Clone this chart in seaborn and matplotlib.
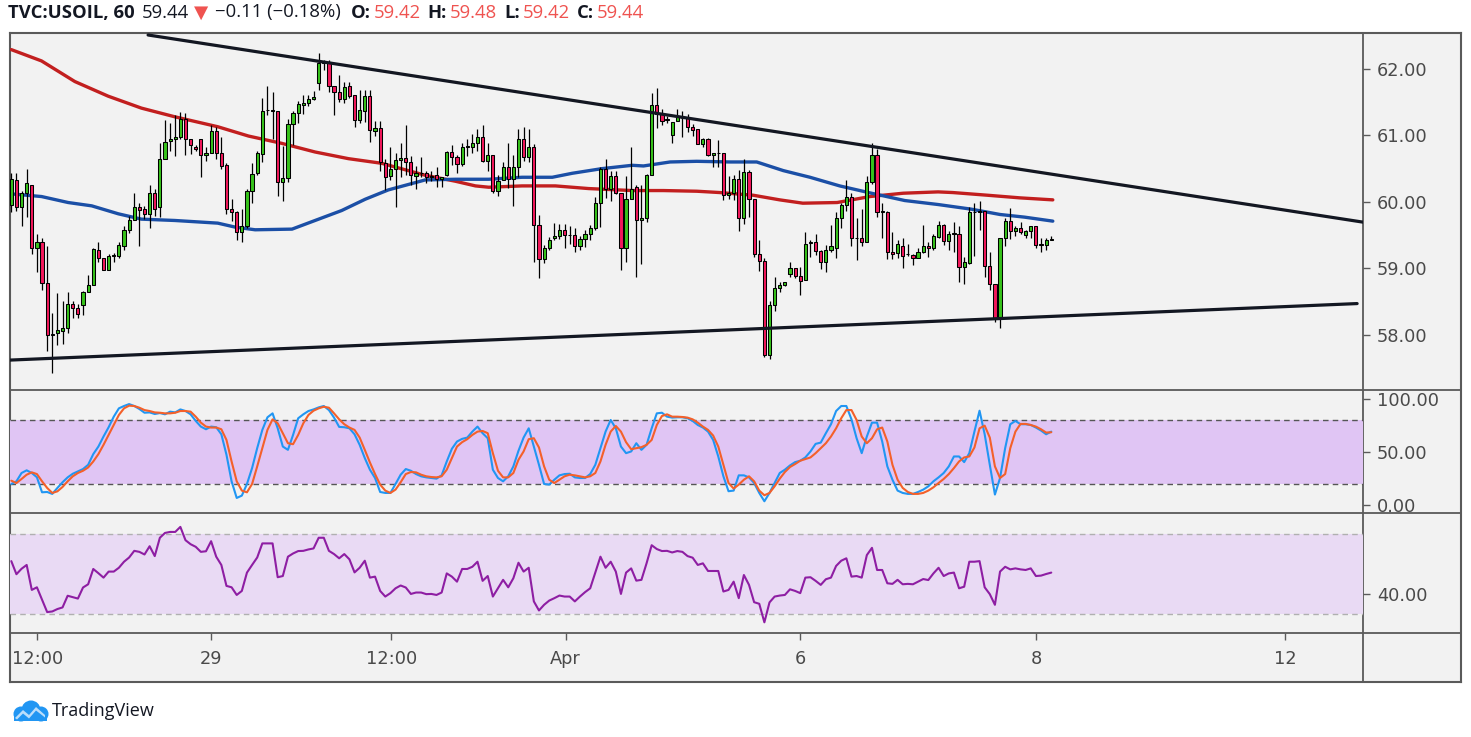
import numpy as np
import pandas as pd
import matplotlib
matplotlib.use("Agg")
import matplotlib.pyplot as plt
import seaborn as sns
from matplotlib.patches import Circle, Polygon

# ---------------- data ----------------
opens = [59.96, 60.33, 59.93, 60.14, 60.26, 59.30, 59.40, 58.78, 58.00, 58.02,
         58.06, 58.11, 58.47, 58.41, 58.45, 58.64, 58.75, 59.28, 59.16, 58.98,
         59.19, 59.19, 59.34, 59.57, 59.73, 59.93, 59.89, 59.82, 60.14, 59.92,
         60.65, 60.91, 60.95, 60.97, 61.25, 60.95, 60.83, 60.94, 60.70, 60.73,
         61.07, 60.74, 60.55, 59.89, 59.85, 59.55, 59.64, 60.17, 60.44, 60.72,
         61.38, 61.38, 61.37, 60.30, 60.36, 61.17, 61.33, 61.46, 61.48, 61.55,
         61.79, 62.09, 62.10, 61.75, 61.65, 61.55, 61.74, 61.60, 61.23, 61.37,
         61.59, 61.06, 61.11, 60.59, 60.39, 60.49, 60.63, 60.66, 60.60, 60.39,
         60.44, 60.43, 60.39, 60.40, 60.35, 60.40, 60.75, 60.68, 60.57, 60.83,
         60.82, 60.88, 60.98, 60.62, 60.71, 60.17, 60.33, 60.53, 60.34, 60.52,
         60.94, 60.68, 60.82, 59.65, 59.14, 59.31, 59.45, 59.48, 59.58, 59.50,
         59.50, 59.33, 59.44, 59.51, 59.60, 59.98, 60.49, 60.20, 60.39, 60.13,
         59.30, 60.05, 60.22, 59.72, 59.75, 60.41, 61.46, 61.32, 61.25, 61.00,
         61.21, 61.26, 61.26, 61.13, 61.09, 60.87, 60.94, 60.70, 60.73, 60.73,
         60.10, 60.14, 60.35, 59.75, 60.45, 60.05, 59.21, 59.11, 57.70, 58.45,
         58.71, 58.75, 58.92, 59.00, 58.89, 58.82, 59.38, 59.39, 59.26, 59.10,
         59.27, 59.31, 59.75, 59.95, 60.07, 59.45, 59.46, 59.40, 60.30, 60.70,
         59.85, 59.84, 59.25, 59.23, 59.33, 59.21, 59.20, 59.16, 59.24, 59.33,
         59.30, 59.47, 59.65, 59.41, 59.52, 59.52, 59.02, 59.08, 59.84, 59.85,
         59.86, 59.03, 58.77, 58.25, 59.45, 59.71, 59.56, 59.61, 59.50, 59.56,
         59.63, 59.36, 59.35, 59.42]
highs = [60.44, 60.43, 60.16, 60.49, 60.26, 59.52, 59.46, 59.33, 58.33, 58.63,
         58.51, 58.65, 58.51, 58.46, 58.66, 58.90, 59.30, 59.40, 59.16, 59.21,
         59.23, 59.39, 59.64, 59.79, 60.14, 59.99, 59.94, 60.25, 60.19, 60.88,
         61.23, 61.19, 61.30, 61.35, 61.33, 60.95, 60.85, 60.94, 60.83, 61.16,
         61.12, 60.98, 60.58, 60.04, 59.87, 59.90, 60.20, 60.58, 60.76, 61.56,
         61.75, 61.66, 61.37, 60.84, 61.24, 61.37, 61.52, 61.60, 61.60, 61.67,
         62.24, 62.13, 62.13, 61.75, 61.91, 61.80, 61.80, 61.61, 61.68, 61.69,
         61.68, 61.22, 61.21, 60.64, 60.83, 60.74, 60.88, 61.16, 60.69, 60.54,
         60.68, 60.47, 60.47, 60.53, 60.38, 60.77, 60.85, 60.70, 60.89, 60.94,
         61.02, 61.09, 61.15, 60.88, 60.71, 60.40, 60.60, 60.88, 60.71, 61.10,
         61.13, 61.10, 60.87, 59.80, 59.35, 59.47, 59.68, 59.66, 59.66, 59.63,
         59.60, 59.49, 59.58, 59.65, 60.08, 60.52, 60.64, 60.47, 60.47, 60.13,
         60.39, 60.82, 60.25, 60.25, 60.42, 61.63, 61.72, 61.40, 61.29, 61.20,
         61.39, 61.37, 61.32, 61.17, 61.10, 60.96, 60.96, 60.74, 60.93, 60.73,
         60.39, 60.40, 60.48, 60.65, 60.48, 60.05, 59.42, 59.15, 58.51, 58.87,
         58.80, 58.80, 59.10, 59.00, 59.02, 59.55, 59.42, 59.51, 59.27, 59.35,
         59.65, 59.85, 59.99, 60.33, 60.13, 59.76, 59.89, 60.39, 60.88, 60.79,
         59.98, 59.86, 59.55, 59.42, 59.45, 59.36, 59.21, 59.31, 59.65, 59.39,
         59.52, 59.71, 59.66, 59.56, 59.70, 59.64, 59.17, 59.92, 59.99, 60.02,
         59.86, 59.25, 58.77, 59.45, 59.75, 59.91, 59.63, 59.69, 59.58, 59.63,
         59.63, 59.45, 59.46, 59.48]
lows = [59.85, 59.87, 59.63, 59.77, 59.22, 58.94, 58.67, 57.75, 57.42, 57.85,
        57.86, 58.03, 58.25, 58.26, 58.30, 58.64, 58.75, 59.09, 58.97, 58.98,
        59.10, 59.15, 59.27, 59.53, 59.72, 59.33, 59.74, 59.60, 59.79, 59.77,
        60.65, 60.77, 60.69, 60.95, 60.70, 60.72, 60.77, 60.38, 60.61, 60.73,
        60.65, 60.49, 59.82, 59.71, 59.42, 59.40, 59.61, 59.99, 60.40, 60.60,
        61.30, 60.95, 60.09, 60.01, 60.30, 60.85, 61.19, 61.32, 61.44, 61.53,
        61.69, 61.98, 61.66, 61.31, 61.50, 61.49, 61.56, 61.12, 61.19, 61.20,
        60.90, 60.99, 60.46, 60.18, 60.33, 59.93, 60.37, 60.40, 60.26, 60.20,
        60.38, 60.29, 60.31, 60.22, 60.22, 60.39, 60.56, 60.44, 60.54, 60.69,
        60.74, 60.76, 60.60, 60.46, 60.14, 60.09, 60.33, 60.21, 59.94, 60.37,
        60.61, 60.60, 59.09, 58.85, 59.08, 59.27, 59.42, 59.44, 59.31, 59.36,
        59.25, 59.28, 59.32, 59.43, 59.58, 59.62, 60.06, 60.02, 60.12, 58.97,
        59.09, 60.05, 58.87, 59.07, 59.70, 60.41, 61.11, 61.16, 61.19, 60.89,
        61.21, 60.97, 61.05, 60.99, 60.87, 60.82, 60.69, 60.52, 60.52, 60.03,
        60.05, 60.03, 59.56, 59.67, 59.77, 59.17, 58.96, 57.67, 57.63, 58.36,
        58.64, 58.74, 58.87, 58.85, 58.60, 58.82, 59.17, 59.20, 58.99, 58.95,
        59.24, 59.15, 59.60, 59.87, 59.33, 59.12, 59.33, 59.39, 60.27, 59.77,
        59.45, 59.14, 59.14, 59.16, 59.00, 59.19, 59.05, 59.16, 59.23, 59.17,
        59.28, 59.46, 59.35, 59.27, 59.24, 58.80, 58.77, 59.07, 59.19, 59.58,
        58.87, 58.68, 58.20, 58.11, 59.34, 59.44, 59.49, 59.52, 59.45, 59.45,
        59.31, 59.25, 59.28, 59.42]
closes = [60.34, 59.93, 60.14, 60.28, 59.30, 59.40, 58.78, 58.00, 58.00, 58.07,
          58.11, 58.47, 58.41, 58.32, 58.65, 58.75, 59.29, 59.15, 58.98, 59.19,
          59.19, 59.35, 59.58, 59.73, 59.93, 59.88, 59.82, 60.13, 59.90, 60.65,
          60.90, 60.95, 60.98, 61.25, 60.95, 60.85, 60.80, 60.70, 60.73, 61.07,
          60.74, 60.54, 59.90, 59.85, 59.55, 59.64, 60.17, 60.42, 60.73, 61.37,
          61.38, 61.37, 60.30, 60.36, 61.17, 61.33, 61.47, 61.48, 61.55, 61.58,
          62.09, 62.10, 61.75, 61.65, 61.54, 61.73, 61.59, 61.23, 61.38, 61.59,
          61.08, 61.11, 60.60, 60.38, 60.49, 60.63, 60.66, 60.60, 60.40, 60.44,
          60.43, 60.37, 60.38, 60.35, 60.38, 60.75, 60.68, 60.57, 60.82, 60.83,
          60.88, 60.98, 60.62, 60.70, 60.17, 60.32, 60.53, 60.34, 60.52, 60.94,
          60.68, 60.82, 59.65, 59.14, 59.30, 59.42, 59.48, 59.58, 59.50, 59.50,
          59.33, 59.44, 59.51, 59.60, 59.99, 60.50, 60.20, 60.39, 60.13, 59.30,
          60.05, 60.20, 59.72, 59.75, 60.41, 61.46, 61.32, 61.22, 61.23, 61.20,
          61.27, 61.26, 61.12, 61.08, 60.87, 60.94, 60.70, 60.73, 60.73, 60.10,
          60.13, 60.35, 59.75, 60.45, 60.05, 59.22, 59.11, 57.70, 58.45, 58.71,
          58.75, 58.79, 59.00, 58.89, 58.81, 59.37, 59.39, 59.26, 59.10, 59.27,
          59.33, 59.75, 59.95, 60.07, 59.45, 59.45, 59.39, 60.30, 60.71, 59.85,
          59.85, 59.25, 59.21, 59.37, 59.18, 59.21, 59.16, 59.24, 59.33, 59.30,
          59.48, 59.65, 59.41, 59.51, 59.52, 59.02, 59.09, 59.84, 59.84, 59.86,
          59.03, 58.77, 58.25, 59.45, 59.71, 59.56, 59.60, 59.55, 59.56, 59.63,
          59.35, 59.35, 59.42, 59.44]

# moving averages (sampled along the lines, x in bar index)
ma_red_idx = [0, 5.9, 12.4, 18.9, 25.4, 31.9, 40.3, 46.3, 52.8, 59.3, 65.8, 72.3,
              80.8, 86.7, 90.6, 93.2, 99.7, 106.2, 112.7, 121.2, 127.3, 133.8,
              138.3, 144.8, 150.0, 154.5, 161.2, 167.6, 174.1, 180.9, 183.8,
              190.5, 196.9, 203.3]
ma_red_val = [62.29, 62.12, 61.81, 61.59, 61.41, 61.28, 61.13, 60.99, 60.88, 60.75,
              60.65, 60.58, 60.40, 60.31, 60.24, 60.22, 60.24, 60.24, 60.20, 60.17,
              60.17, 60.16, 60.14, 60.10, 60.03, 59.98, 59.99, 60.08, 60.13, 60.15,
              60.14, 60.10, 60.06, 60.03]
ma_blue_idx = [0, 5.9, 11.1, 15.7, 20.9, 25.4, 31.9, 40.3, 43.7, 47.6, 54.8, 59.3,
               64.5, 69.1, 73.6, 80.8, 86.7, 93.2, 99.7, 105.6, 109.5, 115.3, 121.2,
               123.4, 128.6, 133.8, 140.3, 145.5, 150.7, 155.9, 161.7, 167.9, 174.4,
               180.9, 187.4, 193.0, 197.8, 203.3]
ma_blue_val = [60.12, 60.08, 59.99, 59.94, 59.82, 59.74, 59.72, 59.68, 59.62, 59.58,
               59.59, 59.72, 59.87, 60.04, 60.18, 60.33, 60.34, 60.34, 60.37, 60.37,
               60.43, 60.50, 60.55, 60.54, 60.60, 60.61, 60.60, 60.60, 60.47, 60.37,
               60.24, 60.13, 60.02, 59.96, 59.89, 59.81, 59.77, 59.71]

# trend lines (bar index, price)
upper_line_idx = [26.7, 263.85]
upper_line_price = [62.51, 59.695]
lower_line_idx = [-0.25, 262.7]
lower_line_price = [57.62, 58.47]

# stochastic %K and %D (one value per bar)
stoch_k = [20.0, 22.5, 30.3, 32.8, 30.3, 26.3, 12.2, 12.5, 10.7, 16.3,
           21.6, 26.2, 29.6, 31.8, 34.0, 38.0, 48.0, 55.1, 64.5, 73.2,
           83.1, 90.9, 93.1, 94.9, 93.1, 90.3, 86.8, 87.1, 85.6, 86.5,
           85.3, 87.8, 87.1, 89.9, 88.4, 85.3, 79.1, 73.8, 71.3, 73.8,
           73.2, 66.6, 47.4, 22.5, 6.9, 9.1, 20.0, 34.9, 53.6, 70.7,
           82.5, 86.2, 72.2, 55.1, 52.0, 66.0, 81.6, 85.3, 88.4, 89.9,
           91.8, 93.1, 89.3, 82.2, 73.5, 73.2, 72.2, 66.6, 56.7, 44.3,
           33.4, 25.6, 12.5, 11.6, 11.6, 20.0, 28.7, 34.0, 32.4, 29.3,
           27.2, 26.2, 25.6, 25.0, 28.1, 41.1, 53.0, 59.8, 62.3, 63.5,
           69.1, 73.8, 67.6, 62.9, 33.4, 25.6, 22.5, 27.2, 36.5, 51.1,
           63.5, 72.2,
           55.1, 38.0, 20.0, 19.4, 24.0, 28.1, 29.3, 29.6, 26.2, 25.6,
           25.6, 29.3, 38.0, 53.6, 69.1, 80.0, 72.2, 55.1, 48.9, 50.5,
           58.2, 52.0, 56.7, 72.2, 86.2, 86.8, 83.1, 82.2, 82.5, 82.5,
           81.6, 79.1, 75.3, 72.9, 69.1, 61.3, 45.8, 27.2, 13.2, 13.8,
           28.1, 28.1, 26.2, 20.9, 11.6, 3.8, 11.6, 20.9, 30.3, 33.4,
           37.4, 40.5, 41.8, 44.9, 50.5, 57.6, 58.8, 67.6, 76.0, 88.4,
           93.1, 93.1, 80.6, 62.9, 48.9, 64.5, 77.5, 77.5, 59.8, 36.5,
           24.0, 13.8, 11.6, 10.7, 10.7, 12.5, 14.7, 17.8, 22.5, 26.2,
           30.3, 36.5, 45.8, 45.8, 40.5, 48.9, 69.1, 88.7, 66.6, 38.0,
           10.1, 25.6, 53.6, 76.0, 79.1, 76.0, 76.0, 75.3, 72.9, 70.1,
           66.6, 69.1]
stoch_d = [23.1, 20.9, 24.7, 28.7, 30.9, 29.3, 22.5, 16.3, 11.6, 13.1,
           17.2, 22.5, 27.2, 30.3, 32.4, 35.5, 41.1, 48.0, 56.7, 66.0,
           75.3, 84.7, 90.9, 93.4, 93.1, 91.5, 89.3, 88.4, 87.1, 86.8,
           86.2, 86.2, 86.8, 88.4, 88.4, 87.8, 83.1, 77.5, 73.8, 72.9,
           72.9, 71.3, 61.3, 41.1, 22.5, 13.8, 12.2, 20.0, 36.5, 53.6,
           70.7, 80.6, 76.9, 67.6, 58.2, 57.3, 66.0, 76.9, 84.7, 88.7,
           90.9, 92.4, 91.5, 86.2, 80.6, 76.0, 72.9, 70.7, 63.5, 52.0,
           40.2, 29.3, 19.4, 13.8, 11.6, 14.7, 21.6, 29.3, 31.2, 30.9,
           28.7, 27.2, 26.5, 26.2, 27.2, 33.4, 44.3, 55.1, 59.2, 62.0,
           66.0, 69.1, 69.7, 67.6, 48.9, 32.4, 26.2, 26.2, 30.3, 42.7,
           50.5, 62.0, 62.9, 54.2, 36.5, 24.0, 20.9, 24.0, 27.2, 28.7,
           28.1, 27.2, 26.2, 27.2, 30.3, 41.1, 56.7, 69.1, 74.4, 69.1,
           59.2, 52.6, 53.6, 54.5, 56.7, 61.3, 75.3, 83.7, 85.3, 83.1,
           83.1, 82.8, 82.2, 80.6, 77.5, 73.8, 70.7, 65.4, 55.1, 38.0,
           20.9, 15.7, 19.4, 24.0, 27.2, 22.5, 13.8, 9.4, 11.6, 17.8,
           25.0, 31.2, 35.9, 38.7, 41.8, 43.3, 44.9, 48.9, 53.6, 58.2,
           64.5, 72.2, 81.6, 89.3, 89.3, 80.0, 64.5, 58.2, 62.9, 71.3,
           72.9, 59.8, 38.0, 24.0, 16.3, 12.5, 10.7, 10.7, 11.6, 13.8,
           16.9, 20.9, 24.7, 29.3, 34.9, 41.1, 44.9, 45.8, 54.2, 72.2,
           74.7, 63.5, 36.5, 25.6, 29.3, 53.6, 69.1, 76.3, 76.3, 75.3,
           73.8, 71.3, 68.2, 68.5]
rsi = [56.3, 49.8, 52.5, 54.4, 42.0, 43.3, 37.1, 31.0, 31.3, 32.5,
       33.3, 39.1, 38.4, 37.7, 43.2, 44.8, 52.4, 50.3, 48.1, 51.1,
       51.1, 53.0, 56.0, 58.1, 61.4, 60.9, 59.6, 63.7, 58.8, 67.9,
       70.3, 70.8, 70.8, 73.3, 66.7, 64.7, 63.4, 60.9, 61.2, 66.2,
       58.5, 54.4, 44.0, 43.3, 39.5, 41.5, 50.6, 54.4, 58.1, 65.1,
       65.1, 65.1, 48.3, 48.9, 58.5, 60.1, 61.3, 61.4, 62.1, 62.6,
       67.9, 67.9, 61.4, 59.8, 57.7, 59.8, 57.2, 50.7, 53.0, 56.5,
       48.1, 48.6, 41.5, 38.7, 40.4, 42.8, 44.2, 43.2, 40.0, 40.7,
       40.7, 39.9, 40.0, 39.5, 40.7, 50.2, 48.6, 46.1, 52.4, 52.4,
       53.5, 56.0, 46.5, 48.9, 38.7, 42.8, 47.0, 43.3, 47.8, 55.5,
       51.1, 53.0, 36.3, 31.8, 34.6, 36.7, 37.9, 39.2, 38.7, 38.7,
       36.3, 38.7, 40.9, 42.8, 50.6, 58.5, 53.0, 56.0, 51.1, 40.0,
       50.6, 52.7, 46.6, 47.0, 55.2, 64.2, 62.3, 61.3, 61.4, 60.6,
       61.3, 60.9, 58.8, 58.0, 54.4, 55.2, 51.4, 51.4, 51.4, 41.2,
       42.0, 46.1, 37.9, 49.4, 44.5, 35.9, 35.1, 25.9, 35.8, 38.7,
       39.2, 39.5, 42.3, 41.5, 40.4, 48.1, 48.3, 46.5, 44.5, 47.3,
       48.1, 53.9, 56.5, 57.7, 48.6, 48.9, 48.1, 59.3, 62.9, 51.9,
       51.9, 45.3, 45.0, 47.0, 44.8, 45.0, 44.8, 46.1, 47.4, 46.9,
       50.2, 53.0, 48.9, 50.2, 50.6, 42.8, 43.6, 56.0, 56.0, 56.3,
       43.3, 39.9, 34.6, 51.1, 53.5, 52.2, 52.7, 52.2, 51.9, 52.7,
       48.9, 49.1, 49.9, 50.6]

price_ticks = [58, 59, 60, 61, 62]
stoch_ticks = [0, 50, 100]
rsi_ticks = [40]
time_tick_idx = [5.06, 39.0, 74.2, 108.2, 154.0, 200.1, 248.6]
time_tick_labels = ["12:00", "29", "12:00", "Apr", "6", "8", "12"]
header_parts = [("TVC:USOIL, 60", "bold", "dark"), ("59.44", "normal", "dark"),
                ("\u25BC", "normal", "red"), ("\u22120.11 (\u22120.18%)", "normal", "dark"),
                ("O:", "bold", "dark"), ("59.42", "normal", "red"),
                ("H:", "bold", "dark"), ("59.48", "normal", "red"),
                ("L:", "bold", "dark"), ("59.42", "normal", "red"),
                ("C:", "bold", "dark"), ("59.44", "normal", "red")]

# ---------------- style ----------------
sns.set_theme(style="white")
plt.rcParams['font.family'] = ['DejaVu Sans']

GREEN = '#37c21b'
RED = '#f2185b'
FRAME = '#5a5a5a'
TXT = '#4a4a4a'
DARK = '#131722'
RED_TXT = '#ef5350'

W, H = 1471, 737
fig = plt.figure(figsize=(W / 100, H / 100), dpi=100)
fig.patch.set_facecolor('white')


def fx(px):
    return px / W


def fy(py):
    return 1 - py / H


FL, FR, FT, FB = 10, 1461, 33, 682
AXR = 1363
S1, S2, S3 = 390, 513, 633

bg = fig.add_axes([fx(FL), fy(FB), fx(FR) - fx(FL), fy(FT) - fy(FB)], zorder=-5)
bg.set_facecolor('#f2f2f2')
bg.set_xlim(FL, FR)
bg.set_ylim(FB, FT)
bg.set_xticks([])
bg.set_yticks([])
for s in bg.spines.values():
    s.set_visible(True)
    s.set_color(FRAME)
    s.set_linewidth(1.5)
for yy in (S1, S2, S3):
    bg.axhline(yy, color=FRAME, lw=1.3)
bg.axvline(AXR, color=FRAME, lw=1.3)

X_LEFT = (FL - 11.3) / 5.123
X_RIGHT = (AXR - 11.3) / 5.123


def panel(top, bottom):
    ax = fig.add_axes([fx(FL), fy(bottom), fx(AXR) - fx(FL), fy(top) - fy(bottom)])
    ax.set_facecolor('none')
    for s in ax.spines.values():
        s.set_visible(False)
    ax.set_xlim(X_LEFT, X_RIGHT)
    ax.yaxis.tick_right()
    ax.tick_params(axis='y', which='both', right=True, left=False, length=5, width=1,
                   color=FRAME, labelcolor=TXT, labelsize=12.8, pad=5, direction='out')
    ax.tick_params(axis='x', bottom=False, labelbottom=False, top=False)
    ax.grid(False)
    return ax


# ---------------- price panel ----------------
ax = panel(FT, S1)
ax.set_ylim(57.17, 62.54)
idx = np.arange(len(closes))
o = np.array(opens)
c = np.array(closes)
up = c >= o
body_bottom = np.minimum(o, c)
body_h = np.maximum(np.abs(c - o), 0.005)

sns.lineplot(x=ma_red_idx, y=ma_red_val, ax=ax, color='#c21f1f', linewidth=2.4, sort=False, zorder=2)
sns.lineplot(x=ma_blue_idx, y=ma_blue_val, ax=ax, color='#1b4fa6', linewidth=2.4, sort=False, zorder=2)

ax.vlines(idx, lows, highs, color='black', lw=0.9, zorder=3)
ax.bar(idx, body_h, bottom=body_bottom, width=0.62,
       color=np.where(up, GREEN, RED), edgecolor='black', linewidth=0.75, zorder=4)

sns.lineplot(x=upper_line_idx, y=upper_line_price, ax=ax, color='#131722', linewidth=2.3, zorder=5)
sns.lineplot(x=lower_line_idx, y=lower_line_price, ax=ax, color='#131722', linewidth=2.3, zorder=5)
ax.set_yticks(price_ticks)
ax.set_yticklabels([f"{v:.2f}" for v in price_ticks])
ax.set_xlabel("")
ax.set_ylabel("")

# ---------------- stochastic panel ----------------
ax2 = panel(S1, S2)
ax2.set_ylim(-7.2, 108.1)
ax2.axhspan(20, 80, color='#e0c5f4', lw=0, zorder=0)
ax2.axhline(80, color='#555555', lw=1.0, ls=(0, (4, 3)), zorder=1)
ax2.axhline(20, color='#555555', lw=1.0, ls=(0, (4, 3)), zorder=1)
sns.lineplot(x=idx, y=stoch_k, ax=ax2, color='#2196f3', linewidth=1.5, zorder=3)
sns.lineplot(x=idx, y=stoch_d, ax=ax2, color='#f4602a', linewidth=1.5, zorder=4)
ax2.set_yticks(stoch_ticks)
ax2.set_yticklabels([f"{v:.2f}" for v in stoch_ticks])
ax2.set_xlabel("")
ax2.set_ylabel("")

# ---------------- RSI panel ----------------
ax3 = panel(S2, S3)
ax3.set_ylim(20.6, 80.2)
ax3.axhspan(30, 70, color='#e9daf4', lw=0, zorder=0)
ax3.axhline(70, color='#b0b0b0', lw=1.0, ls=(0, (4, 3)), zorder=1)
ax3.axhline(30, color='#b0b0b0', lw=1.0, ls=(0, (4, 3)), zorder=1)
sns.lineplot(x=idx, y=rsi, ax=ax3, color='#8e1ea3', linewidth=1.5, zorder=3)
ax3.set_yticks(rsi_ticks)
ax3.set_yticklabels([f"{v:.2f}" for v in rsi_ticks])
ax3.set_xlabel("")
ax3.set_ylabel("")
ax3.set_xticks(time_tick_idx)
ax3.set_xticklabels(time_tick_labels)
ax3.tick_params(axis='x', bottom=True, labelbottom=True, length=5, width=1,
                color=FRAME, labelcolor=TXT, labelsize=12.8, pad=7, direction='out')
ax3.set_xlim(X_LEFT, X_RIGHT)

# ---------------- header ----------------
hdr_font = ['Open Sans', 'DejaVu Sans']
gaps = [0, 5, 3.6, 5, 7.2, 2.2, 5, 2.2, 5, 2.2, 5, 2.2]
prev = None
for (txt, wt, col), g in zip(header_parts, gaps):
    colr = DARK if col == "dark" else RED_TXT
    if prev is None:
        prev = fig.text(fx(8), fy(17.5), txt, fontsize=13.3, fontweight=wt, color=colr,
                        family=hdr_font, va='baseline', ha='left')
    else:
        prev = bg.annotate(txt, xy=(1, 0), xycoords=prev, xytext=(g, 0),
                           textcoords='offset points', fontsize=13.3, fontweight=wt,
                           color=colr, family=hdr_font, va='bottom', ha='left',
                           annotation_clip=False)

# ---------------- footer logo ----------------
lax = fig.add_axes([fx(10), fy(724), fx(50) - fx(10), fy(696) - fy(724)])
lax.set_xlim(0, 40)
lax.set_ylim(0, 28)
lax.axis('off')
lax.add_patch(Circle((11, 10), 7.5, color='#2196f3', lw=0))
lax.add_patch(Circle((21, 14), 9.5, color='#2196f3', lw=0))
lax.add_patch(Circle((31, 10), 7.5, color='#2196f3', lw=0))
lax.add_patch(Polygon([[3.5, 3], [37, 3], [37, 10], [3.5, 10]], closed=True, color='#2196f3', lw=0))
lax.add_patch(Polygon([[5, 6], [13, 14], [19, 9], [26, 17], [35, 9], [35, 6.5], [26, 13.5],
                       [19, 5.5], [13, 10.5], [7, 4.5]], closed=True, color='#bbdefb', lw=0))
fig.text(fx(52), fy(711), "TradingView", fontsize=13, color=DARK, va='center', ha='left',
         family=['Open Sans', 'DejaVu Sans'])

fig.savefig("out.png", dpi=100, facecolor='white')
